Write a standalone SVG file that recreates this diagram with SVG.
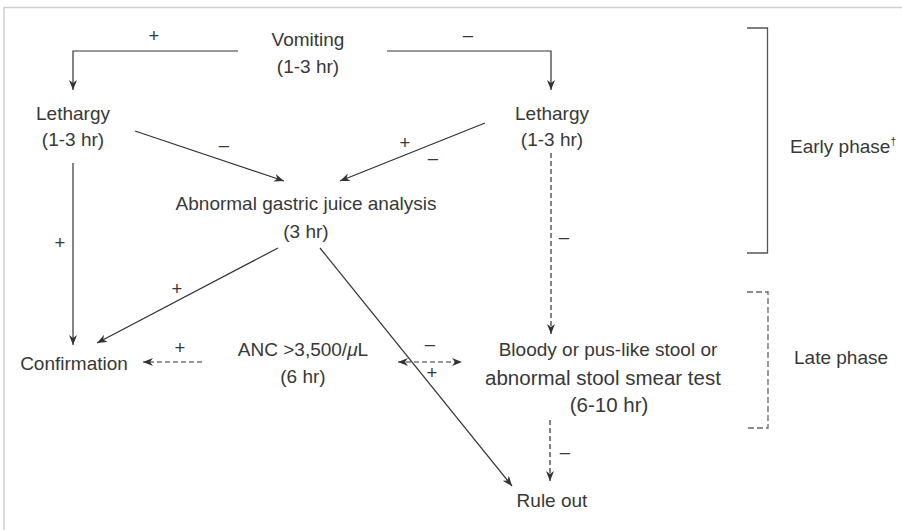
<svg xmlns="http://www.w3.org/2000/svg" width="902" height="530" viewBox="0 0 902 530">
<style>
text{font-family:"Liberation Sans",Arial,sans-serif;fill:#383838;}
.n{font-size:19px;text-anchor:middle;}
.b{font-size:20.5px;text-anchor:middle;}
.s{font-size:18.5px;text-anchor:middle;}
.l{fill:none;stroke:#333;stroke-width:1.2;}
.d{fill:none;stroke:#333;stroke-width:1.2;stroke-dasharray:5 3;}
.br{fill:none;stroke:#555;stroke-width:1.3;}
.brd{fill:none;stroke:#666;stroke-width:1.3;stroke-dasharray:6 3;}
</style>
<defs>
<marker id="a" viewBox="0 0 10 8" refX="10" refY="4" markerWidth="10" markerHeight="8" markerUnits="userSpaceOnUse" orient="auto-start-reverse">
<path d="M0,0 L10,4 L0,8 L3,4 z" fill="#333"/>
</marker>
</defs>
<rect width="902" height="530" fill="#fff"/>
<path d="M4,530 V7.5 H902" fill="none" stroke="#d0d0d0" stroke-width="1.5"/>

<g id="connectors">
<path class="l" d="M238,51 H73 V90" marker-end="url(#a)"/>
<path class="l" d="M387,51 H551 V90" marker-end="url(#a)"/>
<path class="l" d="M135,131 L284,181" marker-end="url(#a)"/>
<path class="l" d="M485,123 L340,181" marker-end="url(#a)"/>
<path class="l" d="M73,163 V345" marker-end="url(#a)"/>
<path class="d" d="M551,153 V334" marker-end="url(#a)"/>
<path class="l" d="M278,248 L97,343" marker-end="url(#a)"/>
<path class="l" d="M320,248 L512,486" marker-end="url(#a)"/>
<path class="d" d="M202,362 H143" marker-end="url(#a)"/>
<path class="d" d="M398,362 H462" marker-start="url(#a)" marker-end="url(#a)"/>
<path class="d" d="M550,420 V481" marker-end="url(#a)"/>
<text class="s" x="154" y="42">+</text>
<text class="s" x="468" y="41">–</text>
<text class="s" x="224" y="151">–</text>
<text class="s" x="405" y="149">+</text>
<text class="s" x="433" y="164">–</text>
<text class="s" x="60" y="249">+</text>
<text class="s" x="564" y="243">–</text>
<text class="s" x="177" y="295">+</text>
<text class="s" x="180" y="354">+</text>
<text class="s" x="430" y="350">–</text>
<text class="s" x="432" y="379">+</text>
<text class="s" x="565" y="458">–</text>
</g>

<g id="vomiting"><text class="n" x="308" y="46">Vomiting</text><text class="n" x="308" y="73">(1-3 hr)</text></g>
<g id="lethargy-left"><text class="n" x="73" y="120">Lethargy</text><text class="n" x="73" y="146">(1-3 hr)</text></g>
<g id="lethargy-right"><text class="n" x="552" y="120">Lethargy</text><text class="n" x="552" y="146">(1-3 hr)</text></g>
<g id="gastric"><text class="n" x="306" y="210">Abnormal gastric juice analysis</text><text class="n" x="306" y="238">(3 hr)</text></g>
<g id="confirmation"><text class="n" x="74" y="370">Confirmation</text></g>
<g id="anc"><text class="n" x="303" y="356">ANC &gt;3,500/<tspan font-style="italic">μ</tspan>L</text><text class="n" x="303" y="383">(6 hr)</text></g>
<g id="stool"><text class="n" x="608" y="356">Bloody or pus-like stool or</text><text class="b" x="603" y="385">abnormal stool smear test</text><text class="b" x="609" y="412">(6-10 hr)</text></g>
<g id="ruleout"><text class="n" x="552" y="507">Rule out</text></g>

<g id="early-phase">
<path class="br" d="M747,28 H767.5 V253 H747"/>
<text x="790" y="153" font-size="19">Early phase<tspan font-size="11" dy="-8">†</tspan></text>
</g>
<g id="late-phase">
<path class="brd" d="M747,292 H768 V428 H747"/>
<text x="794" y="364" font-size="19">Late phase</text>
</g>
</svg>
